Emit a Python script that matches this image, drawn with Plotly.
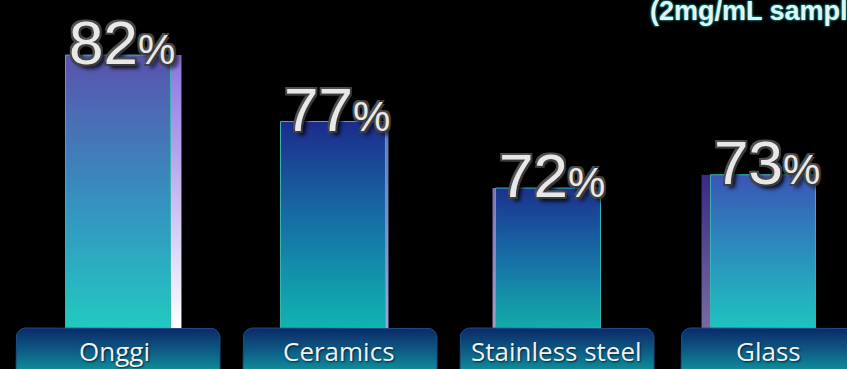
import numpy as np
import plotly.graph_objects as go

# ---------------- data ----------------
categories = ["Onggi", "Ceramics", "Stainless steel", "Glass"]
values = [82, 77, 72, 73]
value_text = ["82", "77", "72", "73"]
note_text = "(2mg/mL sample)"

# ---------------- layout / style constants ----------------
W, H = 847, 369
PX_PER_X = 215.0          # pixels per category step
FIRST_CENTER_PX = 118.0   # pixel of first category center
PX_PER_VAL = 13.3         # pixels per percentage point
Y_TOP_VAL = 86.14         # value at the top edge of the plot
FLOOR_PX = 328            # top of the label boxes
BOX_BOTTOM_PX = 372
BAR_W = 0.488

x_range = [-FIRST_CENTER_PX / PX_PER_X, (W - FIRST_CENTER_PX) / PX_PER_X]
y_range = [Y_TOP_VAL - H / PX_PER_VAL, Y_TOP_VAL]
floor_val = Y_TOP_VAL - FLOOR_PX / PX_PER_VAL

front_scales = [
    [[0, "#22c9c1"], [0.45, "#3592c0"], [1, "#5a52ae"]],
    [[0, "#0fb4b0"], [0.5, "#1672a6"], [1, "#1c2b8c"]],
    [[0, "#12aca9"], [0.5, "#186ea6"], [1, "#1b3190"]],
    [[0, "#1ec4c0"], [0.5, "#2b8ebd"], [1, "#3b55b6"]],
]
base_colors = ["#3592c0", "#1672a6", "#186ea6", "#2b8ebd"]
side_specs = [  # (side, width px, bottom color, top color)
    ("right", 11, "#ffffff", "#8c72e2"),
    ("right", 3, "#9aa8d8", "#5a78c0"),
    ("left", 3, "#a49cc8", "#7a74b4"),
    ("left", 9, "#7a6aa2", "#3a2a82"),
]

fig = go.Figure()

idx = list(range(len(categories)))

# base bars (covered by gradient faces)
fig.add_trace(go.Bar(
    x=idx, y=values, width=BAR_W, marker=dict(color=base_colors, line=dict(width=0)),
    hoverinfo="skip", showlegend=False,
))

# gradient front faces and side strips
for i, v in enumerate(values):
    xl, xr = i - BAR_W / 2, i + BAR_W / 2
    side, sw, cb, ct = side_specs[i]
    swu = sw / PX_PER_X
    if side == "right":
        sx0, sx1 = xr, xr + swu
    else:
        sx0, sx1 = xl - swu, xl
    fig.add_trace(go.Scatter(
        x=[sx0, sx1, sx1, sx0, sx0], y=[floor_val, floor_val, v, v, floor_val],
        mode="lines", fill="toself", line=dict(width=0, color=ct),
        fillgradient=dict(type="vertical", colorscale=[[0, cb], [1, ct]],
                          start=floor_val, stop=v),
        hoverinfo="skip", showlegend=False,
    ))
    fig.add_trace(go.Scatter(
        x=[xl, xr, xr, xl, xl], y=[floor_val, floor_val, v, v, floor_val],
        mode="lines", fill="toself", line=dict(width=1, color="#37b9b2"),
        fillgradient=dict(type="vertical", colorscale=front_scales[i],
                          start=floor_val, stop=v),
        hoverinfo="skip", showlegend=False,
    ))


# label boxes with rounded top corners (y2 axis is in pixels from top)
def rounded_box(cx, half_w, top, bottom, r):
    rx = r / PX_PER_X
    xs, ys = [cx - half_w], [bottom]
    t = np.linspace(np.pi, np.pi / 2, 10)
    xs += list(cx - half_w + rx + rx * np.cos(t))
    ys += list(top + r - r * np.sin(t))
    t = np.linspace(np.pi / 2, 0, 10)
    xs += list(cx + half_w - rx + rx * np.cos(t))
    ys += list(top + r - r * np.sin(t))
    xs += [cx + half_w, cx - half_w]
    ys += [bottom, bottom]
    return xs, ys


BOX_HALF_PX = [102, 97, 97, 97]
box_offsets_px = [0, 7, 9, 15]
label_offsets_px = [-4, 6, 8, 5]
for i, cat in enumerate(categories):
    cx = i + box_offsets_px[i] / PX_PER_X
    bx, by = rounded_box(cx, BOX_HALF_PX[i] / PX_PER_X, FLOOR_PX, BOX_BOTTOM_PX, 10)
    fig.add_trace(go.Scatter(
        x=bx, y=by, yaxis="y2", mode="lines", fill="toself",
        line=dict(width=1, color="#1b4f86"),
        fillgradient=dict(type="vertical",
                          colorscale=[[0, "#0c2868"], [0.55, "#0d5f86"], [1, "#0f929c"]],
                          start=FLOOR_PX, stop=BOX_BOTTOM_PX),
        hoverinfo="skip", showlegend=False,
    ))
    fig.add_annotation(
        x=i + label_offsets_px[i] / PX_PER_X, y=351, xref="x", yref="y2", text=cat,
        showarrow=False,
        font=dict(family="Open Sans", size=26, color="#f2f2f2",
                  shadow="1px 1px 2px #04203a"),
        xanchor="center", yanchor="middle",
    )

# percentage labels
for i, (v, t) in enumerate(zip(values, value_text)):
    fig.add_annotation(
        x=i + 0.02, y=v, xref="x", yref="y",
        text=f"{t}<span style='font-size:42px'>%</span>",
        showarrow=False, xanchor="center", yanchor="bottom", yshift=-24,
        font=dict(family="Liberation Sans", size=62, color="#e8e8e8",
                  shadow="2px 2px 0 #3a3a3a, -2px -2px 0 #505050, 2px -2px 0 #444, -2px 2px 0 #444, 4px 4px 4px #000"),
    )

# note at top right (cut off by the window edge, as in the source)
fig.add_annotation(
    x=648 / W, y=1, xref="paper", yref="paper", text=note_text, showarrow=False,
    xanchor="left", yanchor="top", yshift=6,
    font=dict(family="Liberation Sans", size=27, weight="bold", color="#dff6f4",
              shadow="0 0 3px #1c9c9a, 0 0 2px #1c9c9a"),
)

fig.update_layout(
    width=W, height=H,
    margin=dict(l=0, r=0, t=0, b=0),
    paper_bgcolor="#000000", plot_bgcolor="#000000",
    showlegend=False, bargap=0,
    xaxis=dict(range=x_range, visible=False, fixedrange=True),
    yaxis=dict(range=y_range, visible=False, fixedrange=True),
    yaxis2=dict(range=[H, 0], visible=False, overlaying="y", fixedrange=True),
)

fig.write_html(
    "out.html",
    config={"displayModeBar": False},
    post_script="document.body.style.margin='0';document.body.style.background='#000';",
)
